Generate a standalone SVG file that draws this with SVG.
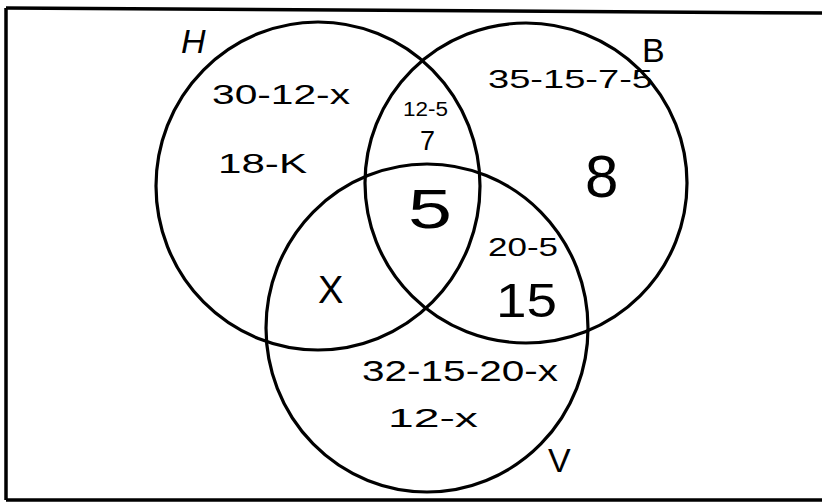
<svg xmlns="http://www.w3.org/2000/svg" width="822" height="503" viewBox="0 0 822 503">
<style>
.set{fill:none;stroke:#000;stroke-width:3.2}
.frame{fill:none;stroke:#000;stroke-width:3.5}
text{font-family:"Liberation Sans","DejaVu Sans",sans-serif;fill:#000}
.lbl{font-size:34px}
.t{font-size:28px}
</style>
<rect width="822" height="503" fill="#fff"/>
<g id="frame">
<path class="frame" d="M6 8 L822 13"/>
<path class="frame" d="M6 8 L6 500"/>
<path class="frame" d="M6 500 L822 500"/>
</g>
<g id="set-H">
<ellipse class="set" cx="318" cy="186" rx="162" ry="164"/>
<text class="lbl" x="181" y="53" font-style="italic">H</text>
</g>
<g id="set-B">
<ellipse class="set" cx="526" cy="183" rx="161" ry="160"/>
<text class="lbl" x="642" y="62" font-size="38">B</text>
</g>
<g id="set-V">
<ellipse class="set" cx="427" cy="328" rx="161" ry="164"/>
<text class="lbl" x="548" y="472" font-size="32">V</text>
</g>
<g id="regions">
<g id="only-H">
<text class="t" x="212" y="104" textLength="138" lengthAdjust="spacingAndGlyphs">30-12-x</text>
<text class="t" x="218" y="173" font-size="34" textLength="89" lengthAdjust="spacingAndGlyphs">18-K</text>
</g>
<g id="H-B">
<text x="403" y="116" font-size="20" textLength="45" lengthAdjust="spacingAndGlyphs">12-5</text>
<text x="420" y="150" font-size="27">7</text>
</g>
<g id="only-B">
<text x="488" y="88" font-size="26" textLength="165" lengthAdjust="spacingAndGlyphs">35-15-7-5</text>
<text x="585" y="197" font-size="60">8</text>
</g>
<g id="H-B-V">
<text x="408" y="228" font-size="56" textLength="44" lengthAdjust="spacingAndGlyphs">5</text>
</g>
<g id="B-V">
<text x="488" y="256" font-size="26" textLength="70" lengthAdjust="spacingAndGlyphs">20-5</text>
<text x="496" y="317" font-size="48" textLength="61" lengthAdjust="spacingAndGlyphs">15</text>
</g>
<g id="H-V">
<text x="318" y="303" font-size="38">X</text>
</g>
<g id="only-V">
<text x="362" y="381" font-size="30" textLength="196" lengthAdjust="spacingAndGlyphs">32-15-20-x</text>
<text x="388" y="427" font-size="26" textLength="90" lengthAdjust="spacingAndGlyphs">12-x</text>
</g>
</g>
<g id="connectors"/>
</svg>
